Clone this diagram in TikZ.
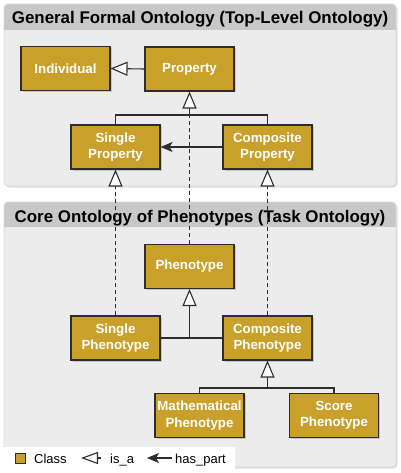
\documentclass[tikz,border=0pt]{standalone}
\usepackage{fontspec}
\setmainfont{Liberation Sans}
\usetikzlibrary{arrows.meta,shadows}
\definecolor{gold}{RGB}{201,160,42}
\definecolor{edgec}{RGB}{45,45,45}
\definecolor{panelbody}{RGB}{236,236,236}
\definecolor{panelhead}{RGB}{200,200,200}
\definecolor{panelline}{RGB}{218,218,218}
\begin{document}
\begin{tikzpicture}[x=1pt,y=-1pt,
  cls/.style={draw=edgec, line width=1.1pt, fill=gold, minimum width=89pt, minimum height=44pt,
    inner sep=0pt, align=center, text=white, font=\fontsize{13.3}{16.3}\selectfont\bfseries,
    drop shadow={shadow xshift=1.5pt,shadow yshift=-1.5pt,opacity=0.35}},
  conn/.style={draw=edgec, line width=1.1pt},
  isa/.style={conn, -{Triangle[open,length=17pt,width=14pt,fill=white]}},
  isadash/.style={isa, dash pattern=on 4pt off 3pt},
  dashconn/.style={conn, dash pattern=on 4pt off 3pt},
  haspart/.style={conn, -{Stealth[length=12pt,width=10pt,inset=3pt]}},
  ptitle/.style={anchor=base, inner sep=0pt, font=\fontsize{16.9}{18}\selectfont\bfseries},
  legtext/.style={anchor=base west, inner sep=0pt, font=\fontsize{13}{15}\selectfont}
]
\useasboundingbox (0,0) rectangle (400,473);
\fill[white] (0,0) rectangle (400,473);

% panels
\foreach \ya/\yb/\yh in {4/186/30, 202/467/227}{
  \fill[black!25, opacity=0.5, rounded corners=4pt] (5.5,\ya+1.5) rectangle (397.5,\yb+1.5);
  \fill[panelbody, rounded corners=4pt] (4,\ya) rectangle (396,\yb);
  \begin{scope}
    \clip[rounded corners=4pt] (4,\ya) rectangle (396,\yb);
    \fill[panelhead] (4,\ya) rectangle (396,\yh);
  \end{scope}
  \draw[panelline, line width=0.8pt, rounded corners=4pt] (4,\ya) rectangle (396,\yb);
}
\node[ptitle] (title1) at (200,24) {General Formal Ontology (Top-Level Ontology)};
\node[ptitle] (title2) at (200,222) {Core Ontology of Phenotypes (Task Ontology)};

% classes
\node[cls] (indiv) at (65.5,68.5) {Individual};
\node[cls] (prop) at (189.5,69) {Property};
\node[cls] (sprop) at (115.5,147) {Single\\Property};
\node[cls] (cprop) at (267.5,147) {Composite\\Property};
\node[cls] (pheno) at (189.5,266.5) {Phenotype};
\node[cls] (spheno) at (115.5,338) {Single\\Phenotype};
\node[cls] (cpheno) at (267.5,338) {Composite\\Phenotype};
\node[cls] (mpheno) at (199.5,415.5) {Mathematical\\Phenotype};
\node[cls] (scpheno) at (334,415.5) {Score\\Phenotype};

% connectors
\coordinate (bar1) at (189.5,115);
\coordinate (bar2) at (189.5,338);
\coordinate (bar3) at (267.5,388);
\draw[isa] (prop.west) -- (indiv.east);
\draw[conn] (sprop.north) |- (bar1) -| (cprop.north);
\draw[dashconn] (pheno.north) -- (bar1);
\draw[isa] (bar1) -- (prop.south);
\draw[haspart] (cprop.west) -- (sprop.east);
\draw[isadash] (spheno.north) -- (sprop.south);
\draw[isadash] (cpheno.north) -- (cprop.south);
\draw[conn] (spheno.east) -- (cpheno.west);
\draw[isa] (bar2) -- (pheno.south);
\draw[conn] (mpheno.north) |- (bar3) -| (scpheno.north);
\draw[isa] (bar3) -- (cpheno.south);

% legend
\fill[white] (0,447) rectangle (235,473);
\node[draw=edgec, line width=1pt, fill=gold, minimum size=10pt, inner sep=0pt] (legsq) at (20.5,458) {};
\node[legtext] (legclass) at (34,463) {Class};
\coordinate (lisaa) at (101,458);
\coordinate (lisab) at (81,458);
\draw[conn, -{Triangle[open,length=17pt,width=12pt,fill=white]}] (lisaa) -- (lisab);
\node[legtext] (legisa) at (110,463) {is\_a};
\coordinate (lhpa) at (172,458);
\coordinate (lhpb) at (147,458);
\draw[haspart] (lhpa) -- (lhpb);
\node[legtext] (leghp) at (175,463) {has\_part};
\end{tikzpicture}
\end{document}
